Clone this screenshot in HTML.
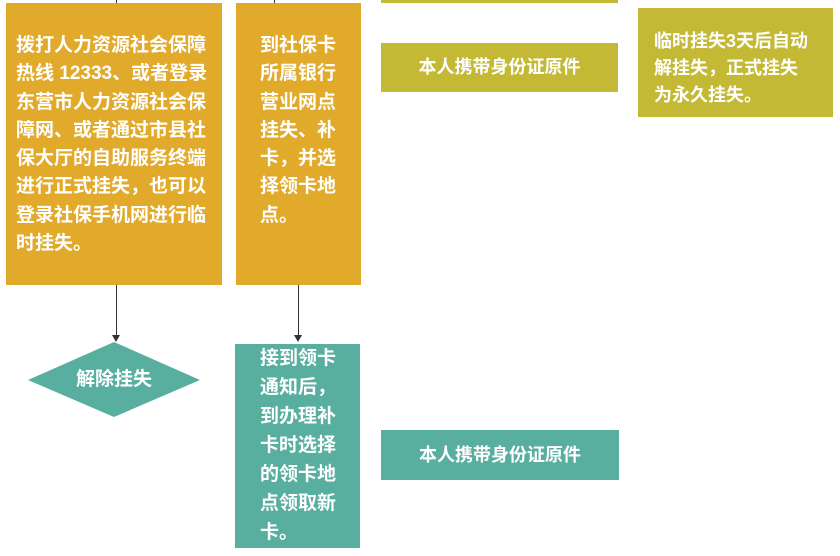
<!DOCTYPE html>
<html><head><meta charset="utf-8"><style>
body{margin:0;width:840px;height:556px;background:#fff;position:relative;overflow:hidden;font-family:"Liberation Sans","Noto Sans CJK SC",sans-serif;color:#fff}
.b{position:absolute;box-sizing:border-box;font-weight:bold}
.o{background:#e1aa2b}.g{background:#c3b934}.t{background:#58ae9f}
.ln{position:absolute;background:#333;width:1px}
</style></head><body>
<div class="b g" style="left:381px;top:0;width:237px;height:3px"></div>
<div class="ln" style="left:116px;top:0;height:4px"></div>
<div class="ln" style="left:274px;top:0;height:4px"></div>
<div class="b o" style="left:6px;top:3px;width:216px;height:282px;padding:29px 0 0 10px;font-size:19px;line-height:28.3px">拨打人力资源社会保障<br>热线 12333、或者登录<br>东营市人力资源社会保<br>障网、或者通过市县社<br>保大厅的自助服务终端<br>进行正式挂失，也可以<br>登录社保手机网进行临<br>时挂失。</div>
<div class="b o" style="left:236px;top:3px;width:125px;height:282px;padding:29px 0 0 24px;font-size:19px;line-height:28.3px">到社保卡<br>所属银行<br>营业网点<br>挂失、补<br>卡，并选<br>择领卡地<br>点。</div>
<div class="b g" style="left:381px;top:43px;width:237px;height:49px;font-size:18px;line-height:49px;text-align:center">本人携带身份证原件</div>
<div class="b g" style="left:638px;top:8px;width:195px;height:109px;padding:20px 0 0 16px;font-size:18px;line-height:27px">临时挂失3天后自动<br>解挂失，正式挂失<br>为永久挂失。</div>
<div class="ln" style="left:116px;top:285px;height:52px"></div>
<div style="position:absolute;left:112px;top:335px;border-left:4px solid transparent;border-right:4px solid transparent;border-top:7px solid #333"></div>
<div class="ln" style="left:298px;top:285px;height:52px"></div>
<div style="position:absolute;left:294px;top:335px;border-left:4px solid transparent;border-right:4px solid transparent;border-top:7px solid #333"></div>
<svg style="position:absolute;left:0;top:0" width="840" height="556"><polygon points="28,380 114,342 200,380 114,417" fill="#58ae9f"/></svg>
<div class="b" style="left:28px;top:342px;width:172px;height:75px;line-height:75px;text-align:center;font-size:19px">解除挂失</div>
<div class="b t" style="left:235px;top:344px;width:125px;height:204px;padding:0 0 0 25px;font-size:19px;line-height:29px">接到领卡<br>通知后，<br>到办理补<br>卡时选择<br>的领卡地<br>点领取新<br>卡。</div>
<div class="b t" style="left:381px;top:430px;width:238px;height:50px;font-size:18px;line-height:50px;text-align:center">本人携带身份证原件</div>
</body></html>
